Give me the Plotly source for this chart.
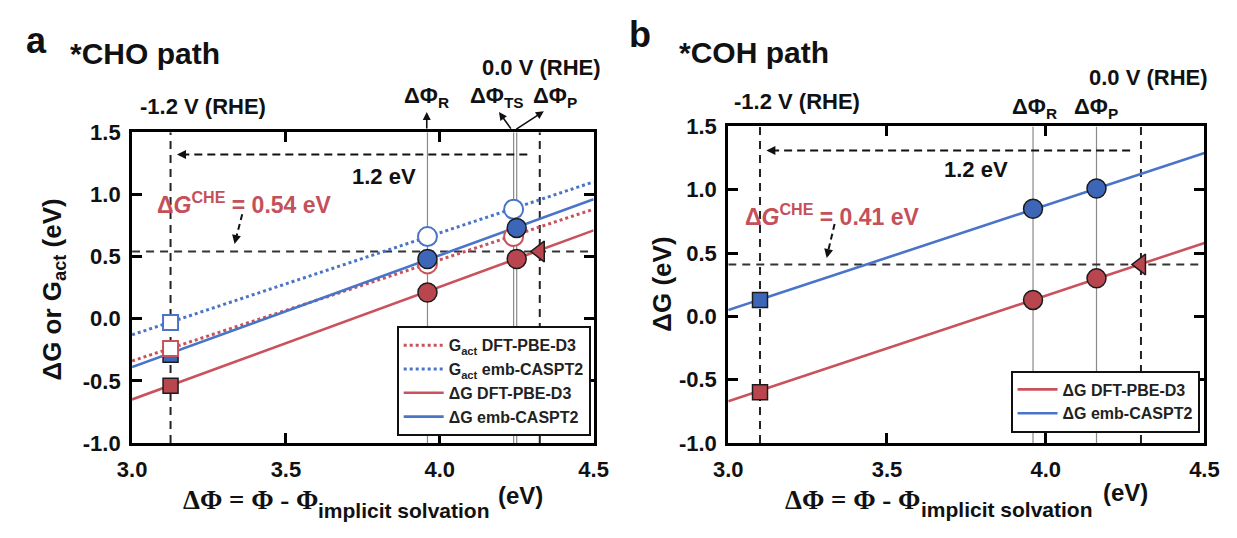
import plotly.graph_objects as go

# ---------------- data ----------------
# common
xticks = [3.0, 3.5, 4.0, 4.5]
xtick_text = ["3.0", "3.5", "4.0", "4.5"]
yticks = [-1.0, -0.5, 0.0, 0.5, 1.0, 1.5]
ytick_text = ["-1.0", "-0.5", "0.0", "0.5", "1.0", "1.5"]
line_x = [3.0, 4.5]

# panel a : *CHO path
a_phi_m12 = 3.125     # -1.2 V (RHE)
a_phi_0 = 4.325       # 0.0 V (RHE)
a_phi_R = 3.96
a_phi_TS = 4.24
a_phi_P = 4.25
a_dg_che = 0.54
a_arrow_y = 1.32
a_gact_dft_line = [-0.34, 0.88]
a_gact_emb_line = [-0.13, 1.10]
a_dg_dft_line = [-0.65, 0.71]
a_dg_emb_line = [-0.39, 0.96]
a_sq_dg_dft = -0.54
a_sq_dg_emb = -0.29
a_sq_gact_dft = -0.24
a_sq_gact_emb = -0.03
a_R_dg_dft = 0.21
a_R_gact_dft = 0.44
a_R_dg_emb = 0.48
a_R_gact_emb = 0.66
a_TS_gact_dft = 0.66
a_TS_gact_emb = 0.88
a_P_dg_dft = 0.48
a_P_dg_emb = 0.73

# panel b : *COH path
b_phi_m12 = 3.10
b_phi_0 = 4.30
b_phi_R = 3.96
b_phi_P = 4.16
b_dg_che = 0.41
b_arrow_y = 1.31
b_dg_dft_line = [-0.67, 0.58]
b_dg_emb_line = [0.05, 1.29]
b_sq_dg_dft = -0.60
b_sq_dg_emb = 0.13
b_R_dg_dft = 0.13
b_R_dg_emb = 0.85
b_P_dg_dft = 0.30
b_P_dg_emb = 1.01

legend_names = ["G<sub>act</sub> DFT-PBE-D3", "G<sub>act</sub> emb-CASPT2",
                "ΔG DFT-PBE-D3", "ΔG emb-CASPT2"]

# ---------------- styles ----------------
RED = "#c9525c"
BLUE = "#4a74c8"
RED_F = "#b9454f"
BLUE_F = "#3d66b9"
EDGE = "#1c1c1c"
FONT = "Liberation Sans, Arial, sans-serif"
W, H = 1237, 538


def px(x):
    return x / W


def py(y):
    return (H - y) / H


fig = go.Figure()


def line_trace(y, color, dash, name, xa, ya, legend):
    fig.add_trace(go.Scatter(x=line_x, y=y, mode="lines", name=name,
                             line=dict(color=color, width=2.6 if dash == "solid" else 3, dash=dash),
                             xaxis=xa, yaxis=ya, legend=legend, showlegend=True,
                             hoverinfo="skip"))


def marker(x, y, symbol, fill, edge, lw, size, xa, ya):
    fig.add_trace(go.Scatter(x=[x], y=[y], mode="markers",
                             marker=dict(symbol=symbol, size=size, color=fill,
                                         line=dict(color=edge, width=lw)),
                             xaxis=xa, yaxis=ya, showlegend=False, hoverinfo="skip"))


# panel a lines
line_trace(a_gact_dft_line, RED, "dot", legend_names[0], "x", "y", "legend")
line_trace(a_gact_emb_line, BLUE, "dot", legend_names[1], "x", "y", "legend")
line_trace(a_dg_dft_line, RED, "solid", legend_names[2], "x", "y", "legend")
line_trace(a_dg_emb_line, BLUE, "solid", legend_names[3], "x", "y", "legend")

CS, SS, TS_ = 19, 15, 18
# panel a markers
marker(a_phi_m12, a_sq_dg_emb, "square", BLUE_F, EDGE, 1.5, SS, "x", "y")
marker(a_phi_m12, a_sq_gact_dft, "square", "white", RED, 2, SS, "x", "y")
marker(a_phi_m12, a_sq_gact_emb, "square", "white", BLUE, 2, SS, "x", "y")
marker(a_phi_m12, a_sq_dg_dft, "square", RED_F, EDGE, 1.5, SS, "x", "y")
marker(a_phi_R, a_R_dg_dft, "circle", RED_F, EDGE, 1.5, CS, "x", "y")
marker(a_phi_R, a_R_gact_dft, "circle", "white", RED, 2, CS, "x", "y")
marker(a_phi_R, a_R_dg_emb, "circle", BLUE_F, EDGE, 1.5, CS, "x", "y")
marker(a_phi_R, a_R_gact_emb, "circle", "white", BLUE, 2, CS, "x", "y")
marker(a_phi_TS, a_TS_gact_dft, "circle", "white", RED, 2, CS, "x", "y")
marker(a_phi_TS, a_TS_gact_emb, "circle", "white", BLUE, 2, CS, "x", "y")
marker(a_phi_P, a_P_dg_dft, "circle", RED_F, EDGE, 1.5, CS, "x", "y")
marker(a_phi_P, a_P_dg_emb, "circle", BLUE_F, EDGE, 1.5, CS, "x", "y")
marker(a_phi_0, a_dg_che, "triangle-left", RED_F, EDGE, 1.5, TS_, "x", "y")

# panel b lines
line_trace(b_dg_dft_line, RED, "solid", legend_names[2], "x2", "y2", "legend2")
line_trace(b_dg_emb_line, BLUE, "solid", legend_names[3], "x2", "y2", "legend2")
# panel b markers
marker(b_phi_m12, b_sq_dg_emb, "square", BLUE_F, EDGE, 1.5, SS, "x2", "y2")
marker(b_phi_m12, b_sq_dg_dft, "square", RED_F, EDGE, 1.5, SS, "x2", "y2")
marker(b_phi_R, b_R_dg_dft, "circle", RED_F, EDGE, 1.5, CS, "x2", "y2")
marker(b_phi_R, b_R_dg_emb, "circle", BLUE_F, EDGE, 1.5, CS, "x2", "y2")
marker(b_phi_P, b_P_dg_dft, "circle", RED_F, EDGE, 1.5, CS, "x2", "y2")
marker(b_phi_P, b_P_dg_emb, "circle", BLUE_F, EDGE, 1.5, CS, "x2", "y2")
marker(b_phi_0, b_dg_che, "triangle-left", RED_F, EDGE, 1.5, TS_, "x2", "y2")

# ---------------- axes ----------------
tickfont = dict(family=FONT, size=22, color="#111", weight="bold")
ax_common = dict(showgrid=False, zeroline=False, showline=True, linecolor="#000",
                 linewidth=3, mirror="allticks", ticks="inside", ticklen=10,
                 tickwidth=3, tickcolor="#000", tickfont=tickfont)
legfont = dict(family=FONT, size=16, color="#222", weight="bold")
fig.update_layout(
    width=W, height=H, margin=dict(l=0, r=0, t=0, b=0),
    paper_bgcolor="white", plot_bgcolor="white",
    xaxis=dict(domain=[px(120), px(593)], anchor="y", range=[3.0, 4.5],
               tickvals=xticks, ticktext=xtick_text, ticklabelstandoff=5, **ax_common),
    yaxis=dict(domain=[py(452), py(126)], anchor="x", range=[-1.0, 1.5],
               tickvals=yticks, ticktext=ytick_text, ticklabelstandoff=4, **ax_common),
    xaxis2=dict(domain=[px(731), px(1219)], anchor="y2", range=[3.0, 4.5],
                tickvals=xticks, ticktext=xtick_text, ticklabelstandoff=5, **ax_common),
    yaxis2=dict(domain=[py(452), py(120)], anchor="x2", range=[-1.0, 1.5],
                tickvals=yticks, ticktext=ytick_text, ticklabelstandoff=4, **ax_common),
    legend=dict(x=px(590), y=py(445), xanchor="right", yanchor="bottom",
                bgcolor="white", bordercolor="#111", borderwidth=2, font=legfont,
                traceorder="normal", tracegroupgap=0, itemwidth=40),
    legend2=dict(x=px(1214), y=py(441), xanchor="right", yanchor="bottom",
                 bgcolor="white", bordercolor="#111", borderwidth=2, font=legfont,
                 traceorder="normal", tracegroupgap=0, itemwidth=40),
)

# ---------------- reference lines ----------------
shapes = []


def vline(x, xr, yr, dash, color, width):
    shapes.append(dict(type="line", xref=xr, yref=yr, x0=x, x1=x, y0=-1.0, y1=1.5,
                       line=dict(color=color, width=width, dash=dash), layer="below"))


def hline(y, x0, x1, xr, yr, dash, color, width):
    shapes.append(dict(type="line", xref=xr, yref=yr, x0=x0, x1=x1, y0=y, y1=y,
                       line=dict(color=color, width=width, dash=dash), layer="below"))


for xv in (a_phi_R, a_phi_TS, a_phi_P):
    vline(xv, "x", "y", "solid", "#8a8a8a", 1.2)
for xv in (b_phi_R, b_phi_P):
    vline(xv, "x2", "y2", "solid", "#8a8a8a", 1.2)
vline(a_phi_m12, "x", "y", "8px,6px", "#222", 2)
vline(a_phi_0, "x", "y", "8px,6px", "#222", 2)
vline(b_phi_m12, "x2", "y2", "8px,6px", "#222", 2)
vline(b_phi_0, "x2", "y2", "8px,6px", "#222", 2)
hline(a_dg_che, 3.0, 4.5, "x", "y", "8px,6px", "#333", 2)
hline(b_dg_che, 3.0, 4.5, "x2", "y2", "8px,6px", "#333", 2)
# 1.2 eV arrows (dashed stems)
hline(a_arrow_y, 3.16, 4.30, "x", "y", "8px,5px", "#111", 2.2)
hline(b_arrow_y, 3.135, 4.28, "x2", "y2", "8px,5px", "#111", 2.2)
# dashed arrows from the dG(CHE) labels
shapes.append(dict(type="line", xref="x", yref="y", x0=3.358, y0=0.84, x1=3.337, y1=0.64,
                   line=dict(color="#111", width=2, dash="6px,4px")))
shapes.append(dict(type="line", xref="x2", yref="y2", x0=3.335, y0=0.73, x1=3.314, y1=0.51,
                   line=dict(color="#111", width=2, dash="6px,4px")))
fig.update_layout(shapes=shapes)

# ---------------- annotations ----------------
ann = []


def text(x, y, s, size, color="#111", weight="bold", family=FONT, xref="paper",
         yref="paper", xanchor="center", textangle=0):
    ann.append(dict(x=x, y=y, xref=xref, yref=yref, text=s, showarrow=False,
                    xanchor=xanchor, yanchor="middle", textangle=textangle,
                    font=dict(family=family, size=size, color=color, weight=weight)))


def arrow(x, y, axp, ayp, xref, yref, width=1.6, head=2, size=1.0):
    ann.append(dict(x=x, y=y, xref=xref, yref=yref, ax=axp, ay=ayp, text="",
                    showarrow=True, arrowhead=head, arrowsize=size, arrowwidth=width,
                    arrowcolor="#111"))


# panel labels and titles
text(px(22), py(30), "a", 36)
text(px(641), py(24), "b", 36)
text(px(133), py(44), "*CHO path", 30)
text(px(757), py(42), "*COH path", 30)

# potential labels
text(px(540), py(58), "0.0 V (RHE)", 22)
text(px(193), py(99), "-1.2 V (RHE)", 22)
text(px(1162), py(69), "0.0 V (RHE)", 22)
text(px(801), py(94), "-1.2 V (RHE)", 22)

# work function labels
text(px(422), py(89), "ΔΦ<sub>R</sub>", 22)
text(px(494), py(89), "ΔΦ<sub>TS</sub>", 22)
text(px(553), py(89), "ΔΦ<sub>P</sub>", 22)
text(px(1045), py(101), "ΔΦ<sub>R</sub>", 22)
text(px(1108), py(101), "ΔΦ<sub>P</sub>", 22)
arrow(px(422), py(105), 0, 18, "paper", "paper")
arrow(px(496), py(105), 13, 18, "paper", "paper")
arrow(px(542), py(104), -29, 19, "paper", "paper")

# 1.2 eV
text(3.818, 1.147, "1.2 eV", 22, xref="x", yref="y")
text(3.78, 1.16, "1.2 eV", 22, xref="x2", yref="y2")
arrow(3.146, a_arrow_y, 10, 0, "x", "y", width=2, head=2, size=0.9)
arrow(3.12, b_arrow_y, 10, 0, "x2", "y2", width=2, head=2, size=0.9)

# dG CHE labels
text(3.365, 0.93, "Δ<i>G</i><sup>CHE</sup> = %.2f eV" % a_dg_che, 23, color="#c4505a",
     xref="x", yref="y")
text(3.329, 0.80, "Δ<i>G</i><sup>CHE</sup> = %.2f eV" % b_dg_che, 23, color="#c4505a",
     xref="x2", yref="y2")
arrow(3.333, 0.60, 2, -9, "x", "y", width=2, head=2, size=0.9)
arrow(3.31, 0.46, 2, -9, "x2", "y2", width=2, head=2, size=0.9)

# axis titles
SERIF = "Liberation Serif, DejaVu Serif, serif"
text(px(170), py(512), "ΔΦ = Φ - Φ", 27, family=SERIF, weight="bold", xanchor="left")
text(px(308), py(523), "implicit solvation", 21, xanchor="left")
text(px(518), py(507), "(eV)", 24)
text(px(787), py(512), "ΔΦ = Φ - Φ", 27, family=SERIF, weight="bold", xanchor="left")
text(px(926), py(522), "implicit solvation", 21, xanchor="left")
text(px(1138), py(504), "(eV)", 24)

text(px(39), py(291), "ΔG or G<sub>act</sub> (eV)", 26, textangle=-90)
text(px(663), py(285), "ΔG (eV)", 26, textangle=-90)

fig.update_layout(annotations=ann)
fig.write_html("out.html")
